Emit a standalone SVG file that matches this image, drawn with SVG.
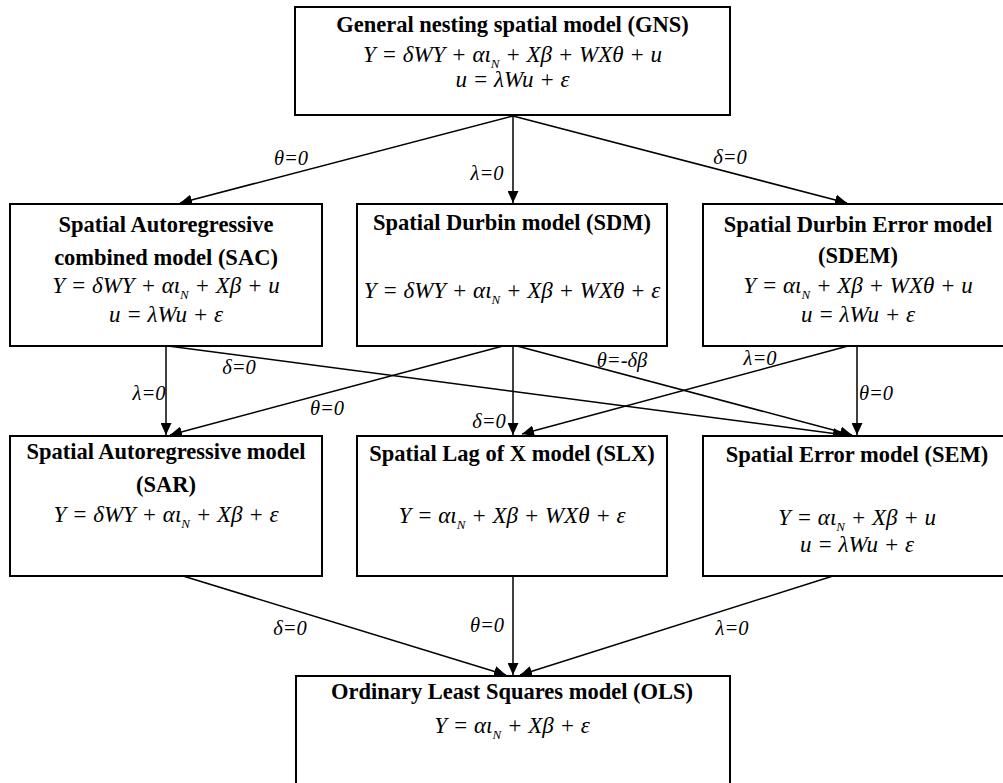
<svg xmlns="http://www.w3.org/2000/svg" width="1003" height="783" viewBox="0 0 1003 783">
<defs>
<style>
.box{fill:#fff;stroke:#000;stroke-width:2}
.t{font-family:"Liberation Serif",serif;font-weight:bold;font-size:22.5px;text-anchor:middle;fill:#000}
.e{font-family:"Liberation Serif",serif;font-style:italic;font-size:23px;text-anchor:middle;fill:#000}
.sub{font-size:13px}
.lbl{font-family:"Liberation Serif",serif;font-style:italic;font-size:20.5px;text-anchor:middle;fill:#000}
.c{stroke:#000;stroke-width:1.5;fill:none;marker-end:url(#ah)}
</style>
<marker id="ah" markerUnits="userSpaceOnUse" markerWidth="13" markerHeight="11" refX="12" refY="5.5" orient="auto">
<path d="M0,0 L12,5.5 L0,11 z" fill="#000"/>
</marker>
</defs>
<rect width="1003" height="783" fill="#fff"/>

<g id="connectors">
<line class="c" x1="513" y1="116" x2="180" y2="203"/>
<line class="c" x1="513" y1="116" x2="513" y2="203"/>
<line class="c" x1="513" y1="116" x2="847" y2="203"/>
<line class="c" x1="166" y1="346" x2="166" y2="435"/>
<line class="c" x1="168" y1="346" x2="845" y2="435"/>
<line class="c" x1="503" y1="346" x2="170" y2="435"/>
<line class="c" x1="513" y1="346" x2="513" y2="435"/>
<line class="c" x1="517" y1="346" x2="852" y2="435"/>
<line class="c" x1="848" y1="346" x2="522" y2="434"/>
<line class="c" x1="857" y1="346" x2="857" y2="435"/>
<line class="c" x1="183" y1="576" x2="506" y2="675"/>
<line class="c" x1="513" y1="576" x2="513" y2="675"/>
<line class="c" x1="833" y1="576" x2="520" y2="675"/>
<text class="lbl" x="291" y="165">θ=0</text>
<text class="lbl" x="487" y="180">λ=0</text>
<text class="lbl" x="730" y="164">δ=0</text>
<text class="lbl" x="149" y="400">λ=0</text>
<text class="lbl" x="239" y="374">δ=0</text>
<text class="lbl" x="327" y="415">θ=0</text>
<text class="lbl" x="489" y="428">δ=0</text>
<text class="lbl" x="622" y="367">θ=-δβ</text>
<text class="lbl" x="760" y="365">λ=0</text>
<text class="lbl" x="876" y="400">θ=0</text>
<text class="lbl" x="290" y="635">δ=0</text>
<text class="lbl" x="487" y="632">θ=0</text>
<text class="lbl" x="732" y="635">λ=0</text>
</g>

<g id="GNS">
<rect class="box" x="295" y="7" width="435" height="108"/>
<text class="t" x="512.5" y="32">General nesting spatial model (GNS)</text>
<text class="e" x="512.5" y="62">Y = δWY + αι<tspan class="sub" dy="6">N</tspan><tspan dy="-6"> + Xβ + WXθ + u</tspan></text>
<text class="e" x="512.5" y="87">u = λWu + ε</text>
</g>

<g id="SAC">
<rect class="box" x="10" y="204" width="312" height="142"/>
<text class="t" x="166" y="232">Spatial Autoregressive</text>
<text class="t" x="166" y="265">combined model (SAC)</text>
<text class="e" x="166" y="293">Y = δWY + αι<tspan class="sub" dy="6">N</tspan><tspan dy="-6"> + Xβ + u</tspan></text>
<text class="e" x="166" y="322">u = λWu + ε</text>
</g>

<g id="SDM">
<rect class="box" x="357" y="204" width="310" height="142"/>
<text class="t" x="512" y="230">Spatial Durbin model (SDM)</text>
<text class="e" x="512" y="298">Y = δWY + αι<tspan class="sub" dy="6">N</tspan><tspan dy="-6"> + Xβ + WXθ + ε</tspan></text>
</g>

<g id="SDEM">
<rect class="box" x="703" y="204" width="310" height="142"/>
<text class="t" x="858" y="232">Spatial Durbin Error model</text>
<text class="t" x="858" y="263">(SDEM)</text>
<text class="e" x="858" y="293">Y = αι<tspan class="sub" dy="6">N</tspan><tspan dy="-6"> + Xβ + WXθ + u</tspan></text>
<text class="e" x="858" y="322">u = λWu + ε</text>
</g>

<g id="SAR">
<rect class="box" x="10" y="436" width="312" height="140"/>
<text class="t" x="166" y="459">Spatial Autoregressive model</text>
<text class="t" x="166" y="492">(SAR)</text>
<text class="e" x="166" y="522">Y = δWY + αι<tspan class="sub" dy="6">N</tspan><tspan dy="-6"> + Xβ + ε</tspan></text>
</g>

<g id="SLX">
<rect class="box" x="357" y="436" width="310" height="140"/>
<text class="t" x="512" y="461">Spatial Lag of X model (SLX)</text>
<text class="e" x="512" y="523">Y = αι<tspan class="sub" dy="6">N</tspan><tspan dy="-6"> + Xβ + WXθ + ε</tspan></text>
</g>

<g id="SEM">
<rect class="box" x="703" y="436" width="310" height="140"/>
<text class="t" x="857" y="462">Spatial Error model (SEM)</text>
<text class="e" x="857" y="525">Y = αι<tspan class="sub" dy="6">N</tspan><tspan dy="-6"> + Xβ + u</tspan></text>
<text class="e" x="857" y="552">u = λWu + ε</text>
</g>

<g id="OLS">
<rect class="box" x="296" y="676" width="434" height="140"/>
<text class="t" x="512" y="699">Ordinary Least Squares model (OLS)</text>
<text class="e" x="512" y="733">Y = αι<tspan class="sub" dy="6">N</tspan><tspan dy="-6"> + Xβ + ε</tspan></text>
</g>
</svg>
